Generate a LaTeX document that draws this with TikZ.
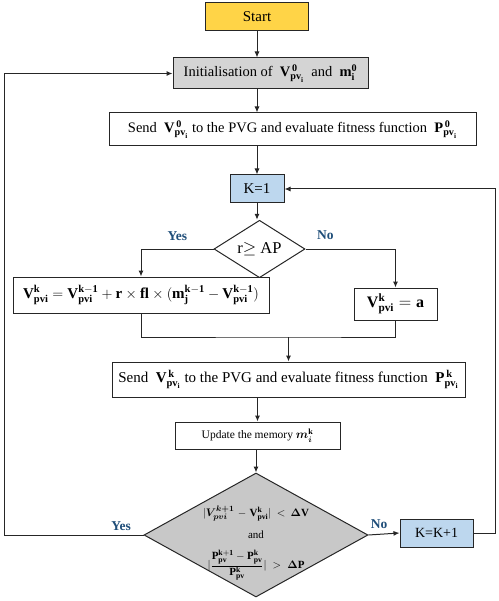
\documentclass[tikz,border=0pt]{standalone}
\usepackage{amsmath,amssymb}
\usepackage{fontspec}
\setmainfont{Liberation Serif}
\usetikzlibrary{arrows.meta, positioning, shapes.geometric}

\definecolor{startyellow}{HTML}{FFD447}
\definecolor{boxgray}{HTML}{D4D4D4}
\definecolor{kblue}{HTML}{BDD7EE}
\definecolor{decgray}{HTML}{C8C8C8}
\definecolor{ansblue}{HTML}{1F4E79}

\begin{document}
\begin{tikzpicture}[
  x=1pt, y=-1pt,
  font=\fontsize{14.5}{16}\selectfont,
  box/.style={draw=black!85, line width=1pt, align=center, inner sep=2pt},
  proc/.style={box, fill=white},
  init/.style={box, fill=boxgray},
  counter/.style={box, fill=kblue, font=\fontsize{14}{16}\selectfont},
  decision/.style={diamond, draw=black!85, line width=1pt, inner sep=0pt},
  ans/.style={font=\fontsize{13.5}{15}\selectfont\bfseries, text=ansblue, inner sep=1pt},
  arr/.style={-{Latex[length=6pt, width=5pt]}, line width=1pt, draw=black!85},
  ln/.style={line width=1pt, draw=black!85},
]
\useasboundingbox (0,0) rectangle (498,601);

% ---- start and initialisation
\node[box, fill=startyellow, minimum width=103pt, minimum height=28pt, font=\fontsize{15}{17}\selectfont] (start) at (257,17) {Start};
\node[init, minimum width=195pt, minimum height=31pt] (ini) at (270.5,73.5)
  {Initialisation of \ $\mathbf{V}_{\mathbf{pv}_{\mathbf{i}}}^{\,\mathbf{0}}$ \ and \ $\mathbf{m}_{\mathbf{i}}^{\mathbf{0}}$};
\node[proc, minimum width=367pt, minimum height=33pt] (send1) at (292.5,129.5)
  {Send \ $\mathbf{V}_{\mathbf{pv}_{\mathbf{i}}}^{\,\mathbf{0}}$ to the PVG and evaluate fitness function \ $\mathbf{P}_{\mathbf{pv}_{\mathbf{i}}}^{\,\mathbf{0}}$};

% ---- iteration counter and first check
\node[counter, minimum width=54pt, minimum height=28pt, font=\fontsize{15}{17}\selectfont] (k1) at (257,189) {K=1};
\node[decision, minimum width=91pt, minimum height=48pt, font=\fontsize{16.5}{18}\selectfont] (dec1) at (259.5,249) {r$\geq$ AP};
\node[proc, minimum width=256pt, minimum height=36pt, font=\fontsize{15}{17}\selectfont] (upd1) at (141,295)
  {$\mathbf{V_{pvi}^{k} = V_{pvi}^{k-1} + r \times fl \times (m_j^{k-1} - V_{pvi}^{k-1})}$};
\node[proc, minimum width=83pt, minimum height=32pt, font=\fontsize{16}{18}\selectfont] (upd2) at (395.5,304)
  {$\mathbf{V_{pvi}^{k} = a}$};
\coordinate (mrg) at (288.5,337);

% ---- evaluation and memory
\node[proc, minimum width=353pt, minimum height=35pt, font=\fontsize{15}{17}\selectfont] (send2) at (288.5,379.5)
  {Send \ $\mathbf{V}_{\mathbf{pv}_{\mathbf{i}}}^{\,\mathbf{k}}$ to the PVG and evaluate fitness function \ $\mathbf{P}_{\mathbf{pv}_{\mathbf{i}}}^{\,\mathbf{k}}$};
\node[proc, minimum width=165pt, minimum height=27pt, font=\fontsize{11.5}{13}\selectfont] (mem) at (257.5,435.5)
  {Update the memory $\boldsymbol{m_i^{\mathrm{k}}}$};

% ---- stopping check
\node[decision, fill=decgray, minimum width=224pt, minimum height=124pt] (dec2) at (256,535) {};
\node[text width=140pt, align=center, inner sep=0pt, font=\fontsize{11}{14}\selectfont] (dec2txt) at ([yshift=-8pt]dec2.center)
  {$|\boldsymbol{V_{pvi}^{k+1}} - \mathbf{V_{pvi}^{k}}| < \boldsymbol{\Delta}\mathbf{V}$\\[8pt]
   and\\[11pt]
   $|\dfrac{\mathbf{P_{pv}^{k+1} - P_{pv}^{k}}}{\mathbf{P_{pv}^{k}}}| > \boldsymbol{\Delta}\mathbf{P}$};
\node[counter, minimum width=73pt, minimum height=28pt] (kinc) at (436.5,533) {K=K+1};
\coordinate (lft) at (4,300);
\coordinate (rgt) at (495,300);

% ---- main flow
\draw[arr] (start.south) -- (start.south |- ini.north);
\draw[arr] (ini.south -| start) -- (send1.north -| start);
\draw[arr] (send1.south -| start) -- (k1.north);
\draw[arr] (k1.south) -- (k1.south |- dec1.north);
\draw[arr] (dec1.west) -| node[pos=0.25, above=7pt, ans]{Yes} (upd1.north);
\draw[arr] (dec1.east) -| node[pos=0.11, above=8pt, ans]{No} (upd2.north);
\draw[ln] (upd1.south) |- (mrg) -| (upd2.south);
\draw[arr] (mrg) -- (send2.north);
\draw[arr] (send2.south -| mem) -- (mem.north);
\draw[arr] (mem.south -| dec2) -- (dec2.north);

% ---- loops
\draw[arr] (dec2.west) -- node[pos=0.16, above=3pt, ans]{Yes} (dec2.west -| lft) |- (ini.west);
\draw[arr] (dec2.east) -- node[pos=0.34, above=4pt, ans]{No} (kinc.west);
\draw[arr] (kinc.east) -- (kinc.east -| rgt) |- (k1.east);
\end{tikzpicture}
\end{document}
